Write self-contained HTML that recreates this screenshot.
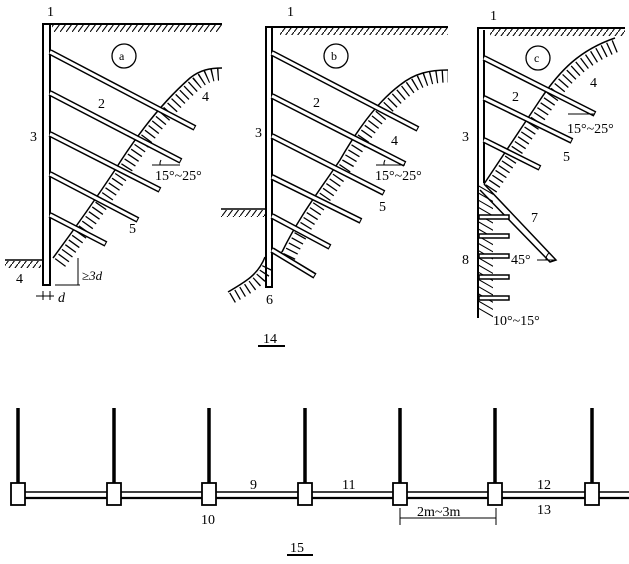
<!DOCTYPE html>
<html><head><meta charset="utf-8"><style>
html,body{margin:0;padding:0;background:#fff}
svg{display:block}
text{font-family:"Liberation Serif",serif;fill:#000}
</style></head><body>
<svg width="629" height="564" viewBox="0 0 629 564" xmlns="http://www.w3.org/2000/svg">
<defs>
<pattern id="h" width="6" height="8" patternUnits="userSpaceOnUse">
<line x1="0" y1="8" x2="6" y2="0" stroke="#000" stroke-width="1.1"/>
</pattern>
</defs>
<g fill="none" stroke="#000">
<!-- Panel a -->
<line x1="43" y1="24" x2="222" y2="24" stroke-width="2"/>
<rect x="52" y="25" width="170" height="7" fill="url(#h)" stroke="none"/>
<rect x="43" y="24" width="7" height="261" fill="#fff" stroke-width="2"/>
<line x1="5" y1="260" x2="43" y2="260" stroke-width="1.5"/>
<rect x="5" y="261" width="36" height="7" fill="url(#h)" stroke="none"/>
<path d="M53,258 C70,235 95,200 115,170 C140,130 165,100 190,78 C200,70 210,68 222,68" stroke-width="1.5"/>
<path d="M60,263 C77,240 102,205 122,175 C147,135 172,105 197,83 C207,75 214,74 222,74" stroke-width="13" stroke-dasharray="1.3 4.5"/>
<g stroke-linecap="butt">
<line x1="50" y1="52" x2="195" y2="128" stroke-width="6"/><line x1="50" y1="52" x2="194" y2="127.5" stroke="#fff" stroke-width="3"/>
<line x1="50" y1="93" x2="181" y2="161" stroke-width="6"/><line x1="50" y1="93" x2="180" y2="160.5" stroke="#fff" stroke-width="3"/>
<line x1="50" y1="134" x2="160" y2="190" stroke-width="6"/><line x1="50" y1="134" x2="159" y2="189.5" stroke="#fff" stroke-width="3"/>
<line x1="50" y1="174" x2="138" y2="220" stroke-width="6"/><line x1="50" y1="174" x2="137" y2="219.5" stroke="#fff" stroke-width="3"/>
<line x1="50" y1="215" x2="106" y2="244" stroke-width="6"/><line x1="50" y1="215" x2="105" y2="243.5" stroke="#fff" stroke-width="3"/>
</g>
<line x1="152" y1="165" x2="180" y2="165" stroke-width="1"/>
<path d="M160,165 A8,8 0 0 1 161,160" stroke-width="1"/>
<line x1="55" y1="285" x2="80" y2="285" stroke-width="1"/>
<line x1="78" y1="258" x2="78" y2="285" stroke-width="1"/>
<line x1="36" y1="296" x2="54" y2="296" stroke-width="1"/>
<line x1="43" y1="291" x2="43" y2="300"/><line x1="50" y1="291" x2="50" y2="300"/>
<circle cx="124" cy="56" r="12" stroke-width="1.3"/>

<!-- Panel b -->
<line x1="266" y1="27" x2="448" y2="27" stroke-width="2"/>
<rect x="280" y="28" width="168" height="7" fill="url(#h)" stroke="none"/>
<rect x="266" y="27" width="6" height="260" fill="#fff" stroke-width="2"/>
<line x1="221" y1="209" x2="265" y2="209" stroke-width="1.5"/>
<rect x="221" y="210" width="44" height="7" fill="url(#h)" stroke="none"/>
<path d="M282,252 C300,215 320,190 340,160 C360,125 380,100 400,85 C415,73 430,70 448,70" stroke-width="1.5"/>
<path d="M289,257 C307,220 327,195 347,165 C367,130 387,105 407,90 C422,78 436,76 448,76" stroke-width="13" stroke-dasharray="1.3 4.5"/>
<path d="M228,292 C245,282 258,275 265,257" stroke-width="1.5"/>
<path d="M232,298 C249,288 262,282 269,264" stroke-width="11" stroke-dasharray="1.3 4.5"/>
<line x1="273" y1="254" x2="282" y2="252" stroke-width="1"/>
<g>
<line x1="272" y1="53" x2="418" y2="129" stroke-width="6"/><line x1="272" y1="53" x2="417" y2="128.5" stroke="#fff" stroke-width="3"/>
<line x1="272" y1="96" x2="405" y2="164" stroke-width="6"/><line x1="272" y1="96" x2="404" y2="163.5" stroke="#fff" stroke-width="3"/>
<line x1="272" y1="136" x2="384" y2="193" stroke-width="6"/><line x1="272" y1="136" x2="383" y2="192.5" stroke="#fff" stroke-width="3"/>
<line x1="272" y1="177" x2="361" y2="221" stroke-width="6"/><line x1="272" y1="177" x2="360" y2="220.5" stroke="#fff" stroke-width="3"/>
<line x1="272" y1="216" x2="330" y2="247" stroke-width="6"/><line x1="272" y1="216" x2="329" y2="246.5" stroke="#fff" stroke-width="3"/>
<line x1="272" y1="250" x2="315" y2="276" stroke-width="6"/><line x1="272" y1="250" x2="314" y2="275.5" stroke="#fff" stroke-width="3"/>
</g>
<line x1="376" y1="165" x2="405" y2="165" stroke-width="1"/>
<path d="M384,165 A8,8 0 0 1 385,160" stroke-width="1"/>
<circle cx="336" cy="56" r="12" stroke-width="1.3"/>

<!-- Panel c -->
<line x1="477" y1="28" x2="625" y2="28" stroke-width="2"/>
<rect x="490" y="29" width="135" height="7" fill="url(#h)" stroke="none"/>
<path d="M478,28 L478,318" stroke-width="2"/>
<path d="M484,30 L484,183" stroke-width="2"/>
<path d="M478,28 L490,28" stroke-width="2"/>
<path d="M484,184 C500,160 520,130 540,100 C560,70 580,50 615,38" stroke-width="1.5"/>
<path d="M491,189 C507,165 527,135 547,105 C567,75 587,57 618,45" stroke-width="13" stroke-dasharray="1.3 4.5"/>
<path d="M486,192 L540,250" stroke-width="1" />
<path d="M484,184 L556,260 L550,262 L480,190" stroke-width="1.5" fill="#fff"/>
<path d="M479,194 L479,318" stroke="none"/>
<path d="M486,190 L486,318" stroke-width="14" stroke-dasharray="1.2 6" transform="skewY(30) translate(0,-281)"/>
<g>
<line x1="484" y1="58" x2="595" y2="114" stroke-width="6"/><line x1="484" y1="58" x2="594" y2="113.5" stroke="#fff" stroke-width="3"/>
<line x1="484" y1="98" x2="572" y2="141" stroke-width="6"/><line x1="484" y1="98" x2="571" y2="140.5" stroke="#fff" stroke-width="3"/>
<line x1="484" y1="140" x2="540" y2="168" stroke-width="6"/><line x1="484" y1="140" x2="539" y2="167.5" stroke="#fff" stroke-width="3"/>
</g>
<g stroke-width="1.5" fill="#fff">
<rect x="479" y="215" width="30" height="4"/>
<rect x="479" y="234" width="30" height="4"/>
<rect x="479" y="254" width="30" height="4"/>
<rect x="479" y="275" width="30" height="4"/>
<rect x="479" y="296" width="30" height="4"/>
</g>
<line x1="568" y1="114" x2="595" y2="114" stroke-width="1"/>
<line x1="537" y1="260" x2="556" y2="260" stroke-width="1"/>
<path d="M546,260 A9,9 0 0 1 549,253" stroke-width="1"/>
<circle cx="538" cy="58" r="12" stroke-width="1.3"/>

<!-- Bottom row -->
<g stroke-width="3.5">
<line x1="18" y1="408" x2="18" y2="484"/><line x1="114" y1="408" x2="114" y2="484"/>
<line x1="209" y1="408" x2="209" y2="484"/><line x1="305" y1="408" x2="305" y2="484"/>
<line x1="400" y1="408" x2="400" y2="484"/><line x1="495" y1="408" x2="495" y2="484"/>
<line x1="592" y1="408" x2="592" y2="484"/>
</g>
<line x1="25" y1="492" x2="629" y2="492" stroke-width="1.5"/>
<line x1="25" y1="498" x2="629" y2="498" stroke-width="2.2"/>
<g fill="#fff" stroke-width="1.8">
<rect x="11" y="483" width="14" height="22"/><rect x="107" y="483" width="14" height="22"/>
<rect x="202" y="483" width="14" height="22"/><rect x="298" y="483" width="14" height="22"/>
<rect x="393" y="483" width="14" height="22"/><rect x="488" y="483" width="14" height="22"/>
<rect x="585" y="483" width="14" height="22"/>
</g>
<line x1="400" y1="518" x2="496" y2="518" stroke-width="1"/>
<line x1="400" y1="508" x2="400" y2="525" stroke-width="1"/>
<line x1="496" y1="508" x2="496" y2="525" stroke-width="1"/>
<line x1="258" y1="346" x2="285" y2="346" stroke-width="2"/>
<line x1="287" y1="555" x2="313" y2="555" stroke-width="2"/>
</g>
<g font-size="14">
<text x="47" y="16">1</text><text x="98" y="108">2</text><text x="30" y="141">3</text>
<text x="202" y="101">4</text><text x="129" y="233">5</text><text x="16" y="283">4</text>
<text x="155" y="180">15°~25°</text>
<text x="82" y="280" font-size="13" font-style="italic">≥3d</text>
<text x="58" y="302" font-style="italic">d</text>
<text x="119" y="60" font-size="12">a</text>
<text x="287" y="16">1</text><text x="313" y="107">2</text><text x="255" y="137">3</text>
<text x="391" y="145">4</text><text x="379" y="211">5</text><text x="266" y="304">6</text>
<text x="375" y="180">15°~25°</text>
<text x="331" y="60" font-size="12">b</text>
<text x="490" y="20">1</text><text x="512" y="101">2</text><text x="462" y="141">3</text>
<text x="590" y="87">4</text><text x="563" y="161">5</text><text x="531" y="222">7</text>
<text x="462" y="264">8</text><text x="511" y="264">45°</text>
<text x="567" y="133">15°~25°</text>
<text x="493" y="325">10°~15°</text>
<text x="534" y="62" font-size="12">c</text>
<text x="263" y="343">14</text>
<text x="250" y="489">9</text><text x="201" y="524">10</text><text x="342" y="489">11</text>
<text x="417" y="516">2m~3m</text>
<text x="537" y="489">12</text><text x="537" y="514">13</text>
<text x="290" y="552">15</text>
</g>
</svg>
</body></html>
